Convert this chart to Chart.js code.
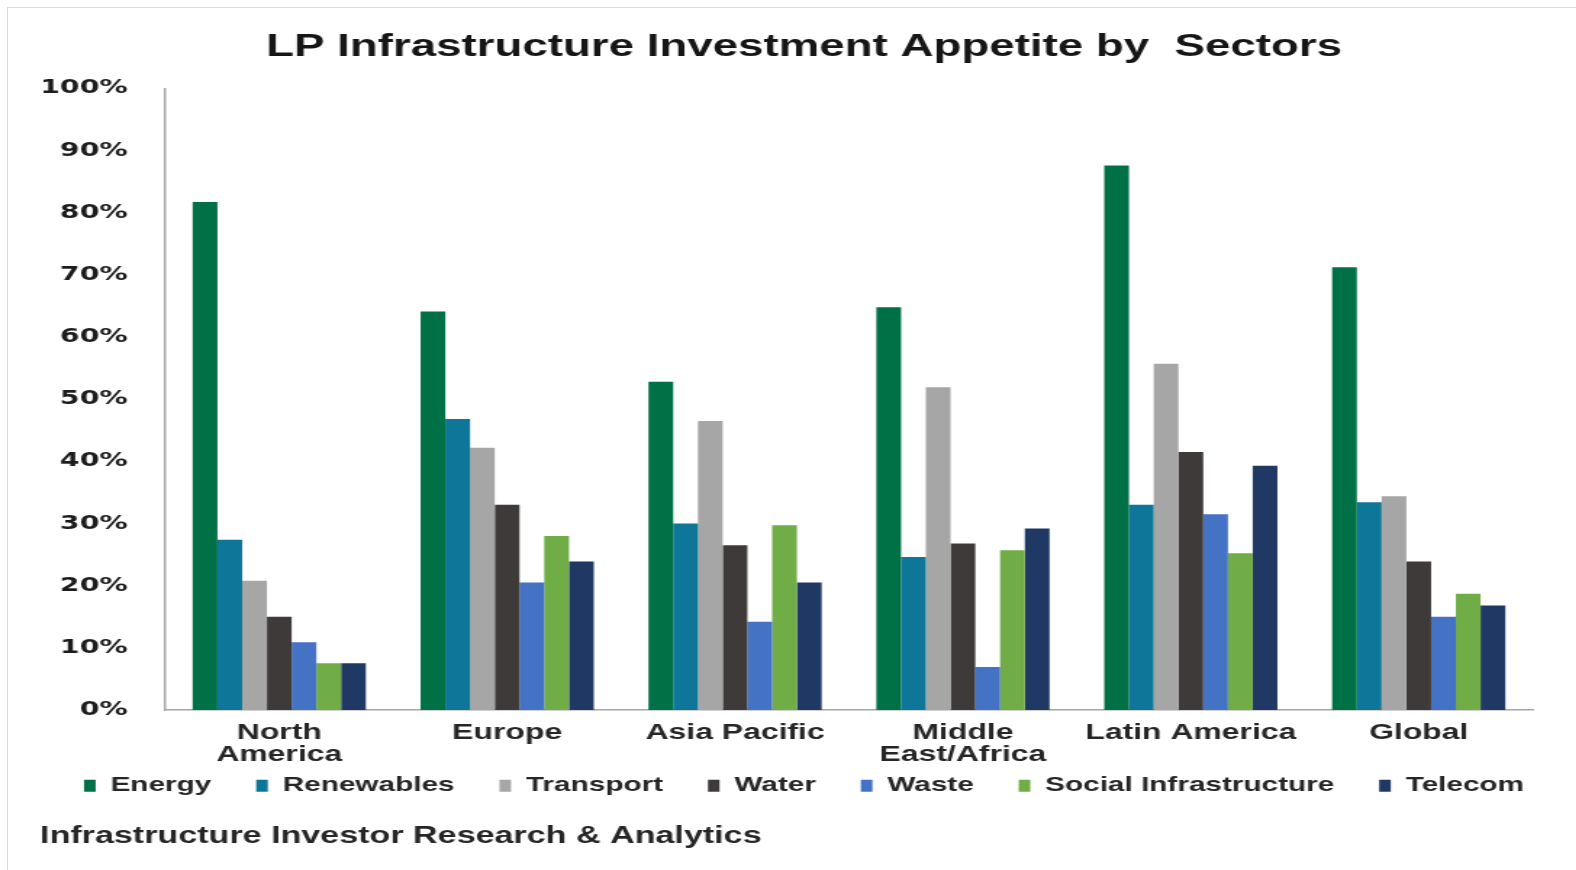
<!DOCTYPE html>
<html>
<head>
<meta charset="utf-8">
<script src="https://cdn.jsdelivr.net/npm/chart.js@4"></script>
<style>
  html, body { margin: 0; padding: 0; background: #fff; overflow: hidden; }
  #wrap { position: relative; width: 1576px; height: 870px; }
  #frame { position: absolute; left: 7px; top: 7px; right: -10px; bottom: -10px; border: 1px solid #dcdcdc; }
  /* the chart is drawn narrow and stretched sideways */
  #chart { position: absolute; left: 0; top: 0; transform: scaleX(1.45); transform-origin: 0 0; }
</style>
</head>
<body>
<div id="wrap">
  <div id="frame"></div>
  <canvas id="chart" width="1087" height="870"></canvas>
</div>
<script>
var regions = [['North', 'America'], 'Europe', 'Asia Pacific', ['Middle', 'East/Africa'], 'Latin America', 'Global'];
var energy      = [81.7, 64.1, 52.8, 64.8, 87.6, 71.2];
var renewables  = [27.4, 46.8, 30.0, 24.6, 33.0, 33.4];
var transport   = [20.8, 42.2, 46.5, 51.9, 55.7, 34.4];
var water       = [15.0, 33.0, 26.5, 26.8, 41.5, 23.9];
var waste       = [10.9, 20.5, 14.2, 6.9, 31.5, 15.0];
var socialInfra = [7.5, 28.0, 29.7, 25.7, 25.2, 18.7];
var telecom     = [7.5, 23.9, 20.5, 29.2, 39.3, 16.8];
var yTicks = [0, 10, 20, 30, 40, 50, 60, 70, 80, 90, 100];
var sourceNote = 'Infrastructure Investor Research & Analytics';

var labelFont = 'Liberation Sans, Arial, sans-serif';

function series(label, data, color) {
    return {
        label: label,
        data: data,
        backgroundColor: color,
        borderWidth: 0,
        barPercentage: 1.0,
        categoryPercentage: 0.76
    };
}

// two-line region names hang below the short x axis box, so don't clip them to it
var unclipXLabels = {
    id: 'unclipXLabels',
    afterLayout: function(chart) {
        chart.scales.x._computeLabelArea = function() {};
    }
};

// source line in the space left free under the legend
var sourceLine = {
    id: 'sourceLine',
    afterDraw: function(chart) {
        var c = chart.ctx;
        c.save();
        c.font = 'bold 23.5px ' + labelFont;
        c.fillStyle = '#262626';
        c.textAlign = 'left';
        c.textBaseline = 'middle';
        c.fillText(sourceNote, 27.6, chart.height - 33);
        c.restore();
    }
};

const ctx = document.getElementById('chart').getContext('2d');
const chart = new Chart(ctx, {
    type: 'bar',
    data: {
        labels: regions,
        datasets: [
            series('Energy', energy, '#007046'),
            series('Renewables', renewables, '#0e7698'),
            series('Transport', transport, '#a6a6a6'),
            series('Water', water, '#3f3a3a'),
            series('Waste', waste, '#4472c4'),
            series('Social Infrastructure', socialInfra, '#70ad47'),
            series('Telecom', telecom, '#1f3864')
        ]
    },
    plugins: [unclipXLabels, sourceLine],
    options: {
        responsive: false,
        animation: false,
        devicePixelRatio: 1,
        layout: { padding: { left: 22, right: 0, top: 0, bottom: 64 } },
        plugins: {
            title: {
                display: true,
                text: 'LP Infrastructure Investment Appetite by  Sectors',
                color: '#161616',
                font: { family: labelFont, size: 31.5, weight: 'bold', lineHeight: 1.2 },
                padding: { top: 28, bottom: 22.5 }
            },
            legend: {
                position: 'bottom',
                labels: {
                    color: '#262626',
                    font: { family: labelFont, size: 20.5, weight: 'bold' },
                    boxWidth: 8,
                    boxHeight: 12,
                    padding: 31
                }
            },
            tooltip: { enabled: false }
        },
        scales: {
            x: {
                grid: { display: false, drawTicks: false },
                border: { display: true, color: '#a6a6a6', width: 1.5 },
                ticks: {
                    color: '#262626',
                    font: { family: labelFont, size: 22, weight: 'bold', lineHeight: 1.0 },
                    padding: 12,
                    maxRotation: 0,
                    autoSkip: false
                },
                afterFit: function(scale) { scale.height = 34.5; }
            },
            y: {
                min: 0,
                max: 100,
                afterBuildTicks: function(scale) {
                    scale.ticks = yTicks.map(function(v) { return { value: v }; });
                },
                grid: { display: false, drawTicks: false },
                border: { display: true, color: '#a6a6a6', width: 1.5 },
                ticks: {
                    color: '#1c1c1c',
                    font: { family: 'DejaVu Sans, sans-serif', size: 19.5, weight: 'bold' },
                    padding: 26,
                    callback: function(v) { return v + '%'; }
                },
                afterFit: function(scale) { scale.width = 92; }
            },
            // empty strip on the right of the plot
            gutter: {
                type: 'linear',
                position: 'right',
                display: true,
                grid: { display: false, drawTicks: false },
                border: { display: false },
                ticks: { display: false },
                afterFit: function(scale) { scale.width = 30; }
            }
        }
    }
});
</script>
</body>
</html>
